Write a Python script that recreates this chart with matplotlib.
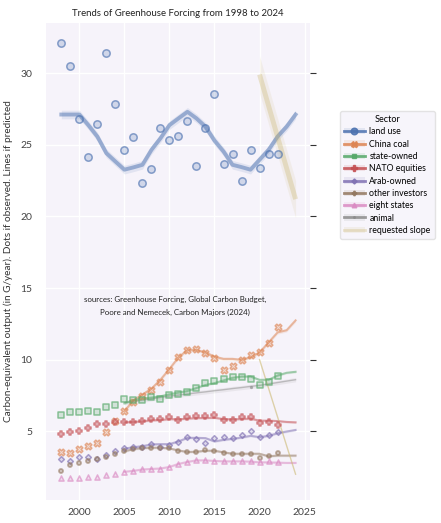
import numpy as np
import matplotlib.pyplot as plt
from matplotlib.colors import to_rgba
from matplotlib.lines import Line2D
from matplotlib.patches import Patch

plt.rcParams['font.family'] = ['Lato', 'DejaVu Sans']

# observed years (dots) and predicted years (lines)
obs_years = list(range(1998, 2023))
pred_years_all = list(range(1998, 2025))
pred_years = list(range(2005, 2025))

land_obs = [32.08, 30.53, 26.8, 24.18, 26.42, 31.39, 27.85, 24.64, 25.54, 22.33,
            23.33, 26.17, 25.36, 25.61, 26.67, 23.51, 26.19, 28.55, 23.63, 24.36,
            22.47, 24.62, 23.39, 24.34, 24.34]
land_pred = [27.11, 27.11, 27.11, 26.37, 25.57, 24.41, 23.83, 23.26, 23.42, 23.6,
             24.64, 25.45, 26.37, 26.84, 27.3, 26.84, 26.26, 25.29, 24.53, 23.6,
             23.44, 23.26, 23.95, 24.64, 25.57, 26.26, 27.11]

china_obs = [3.53, 3.48, 3.76, 4.0, 4.19, 4.95, 5.74, 6.41, 7.03, 7.49, 7.88, 8.43,
             9.29, 10.21, 10.67, 10.74, 10.48, 10.14, 9.29, 9.54, 9.98, 10.32,
             10.55, 11.18, 12.3]
china_pred = [6.4, 7.17, 7.56, 7.97, 8.6, 9.35, 10.16, 10.67, 10.67, 10.5, 10.2,
              10.05, 10.05, 9.98, 10.16, 10.5, 11.2, 11.9, 12.05, 12.74]

state_obs = [6.11, 6.34, 6.31, 6.38, 6.31, 6.66, 6.84, 7.26, 7.17, 7.19, 7.37, 7.26,
             7.53, 7.6, 7.72, 8.02, 8.36, 8.5, 8.64, 8.8, 8.78, 8.66, 8.25, 8.46, 8.85]
state_pred = [6.94, 7.17, 7.28, 7.35, 7.44, 7.58, 7.7, 7.81, 8.02, 8.23, 8.36, 8.55,
              8.73, 8.82, 8.82, 8.59, 8.59, 8.89, 9.08, 9.15]

nato_obs = [4.82, 4.93, 5.02, 5.25, 5.48, 5.51, 5.67, 5.62, 5.65, 5.74, 5.83, 5.83,
            6.01, 5.78, 5.97, 6.04, 6.04, 6.11, 5.76, 5.76, 5.97, 6.01, 5.6, 5.67, 5.44]
nato_pred = [5.62, 5.65, 5.69, 5.76, 5.78, 5.85, 5.83, 5.88, 5.92, 5.92, 5.94, 5.85,
             5.83, 5.85, 5.88, 5.74, 5.74, 5.71, 5.65, 5.62]

arab_obs = [3.09, 2.95, 3.23, 3.18, 3.06, 3.36, 3.59, 3.82, 3.87, 3.89, 4.1, 3.92,
            4.01, 4.24, 4.59, 4.45, 4.19, 4.52, 4.63, 4.56, 4.72, 5.0, 4.63, 4.72, 4.93]
arab_pred = [3.78, 3.89, 3.96, 4.08, 4.1, 4.1, 4.29, 4.54, 4.54, 4.52, 4.29, 4.4,
             4.47, 4.56, 4.68, 4.59, 4.68, 4.86, 4.98, 5.09]

other_obs = [2.24, 2.63, 2.81, 2.93, 3.04, 3.2, 3.41, 3.64, 3.78, 3.82, 3.8, 3.82,
             3.8, 3.59, 3.53, 3.55, 3.71, 3.64, 3.5, 3.43, 3.43, 3.43, 3.11, 3.27, 3.46]
other_pred = [3.59, 3.76, 3.82, 3.85, 3.85, 3.8, 3.66, 3.55, 3.57, 3.64, 3.64, 3.53,
              3.43, 3.43, 3.43, 3.43, 3.25, 3.3, 3.3, 3.3]

eight_obs = [1.71, 1.73, 1.77, 1.84, 1.82, 1.96, 2.03, 2.14, 2.21, 2.33, 2.37, 2.35,
             2.51, 2.74, 2.86, 3.0, 2.97, 2.93, 2.9, 2.9, 2.9, 2.9, 2.86, 2.93, 2.86]
eight_pred = [2.17, 2.24, 2.33, 2.37, 2.4, 2.51, 2.72, 2.86, 2.97, 2.97, 2.93, 2.9,
              2.9, 2.9, 2.88, 2.83, 2.83, 2.81, 2.79, 2.79]

animal_obs_years = [2019]
animal_obs = [8.1]
animal_pred = [7.0, 7.08, 7.17, 7.26, 7.36, 7.45, 7.52, 7.6, 7.68, 7.75, 7.83, 7.9,
               7.98, 8.05, 8.13, 8.2, 8.3, 8.4, 8.5, 8.6]

slope_years = [2020, 2024]
slope_top = [29.9, 21.2]
slope_bottom = [10.0, 2.0]

sectors = ['land use', 'China coal', 'state-owned', 'NATO equities', 'Arab-owned',
           'other investors', 'eight states', 'animal', 'requested slope']
colors = ['#4C72B0', '#DD8452', '#55A868', '#C44E52', '#8172B3', '#937860',
          '#DA8BC3', '#8C8C8C', '#CCB974']
markers = ['o', 'X', 's', 'P', 'D', 'P', '^', '.', None]
msizes = [5.3, 4.8, 3.8, 4.6, 2.9, 3.5, 3.7, 2.5, 0]

fig = plt.figure(figsize=(4.41, 5.23), dpi=100)
ax = fig.add_axes([46 / 441, 23 / 523, 264 / 441, 477 / 523])
ax.set_facecolor('#F6F3FA')
ax.grid(True, color='white', lw=1)
for s in ax.spines.values():
    s.set_visible(False)
ax.set_axisbelow(True)


def draw(name, ox, oy, px, py, lw=1.5, band=0.15):
    i = sectors.index(name)
    c = colors[i]
    px = np.array(px)
    py = np.array(py)
    ax.fill_between(px, py - band, py + band, color=c, alpha=0.12, lw=0)
    ax.plot(px, py, color=c, lw=lw, alpha=0.5)
    if len(ox):
        ax.scatter(ox, oy, marker=markers[i], s=msizes[i] ** 2,
                   facecolor=to_rgba(c, 0.22), edgecolor=to_rgba(c, 0.65),
                   lw=1.1, zorder=3)


draw('land use', obs_years, land_obs, pred_years_all, land_pred, lw=2.8, band=0.3)
draw('China coal', obs_years, china_obs, pred_years, china_pred, band=0.12)
draw('animal', animal_obs_years, animal_obs, pred_years, animal_pred, lw=1.0, band=0.15)
draw('state-owned', obs_years, state_obs, pred_years, state_pred, band=0.08)
draw('NATO equities', obs_years, nato_obs, pred_years, nato_pred, band=0.08)
draw('Arab-owned', obs_years, arab_obs, pred_years, arab_pred, band=0.08)
draw('other investors', obs_years, other_obs, pred_years, other_pred, band=0.08)
draw('eight states', obs_years, eight_obs, pred_years, eight_pred, band=0.06)

# requested slope: thick band on land use, thin line below
sy = np.array(slope_top)
ax.fill_between(slope_years, sy - 1.3, sy + 1.3, color=colors[8], alpha=0.12, lw=0)
ax.plot(slope_years, slope_top, color=colors[8], lw=3.5, alpha=0.35, solid_capstyle='butt')
ax.plot(slope_years, slope_bottom, color=colors[8], lw=1.0, alpha=0.6)

ax.set_xlim(1996.3, 2025.6)
ax.set_ylim(0.2, 33.5)
ax.set_xticks([2000, 2005, 2010, 2015, 2020, 2025])
ax.set_yticks([5, 10, 15, 20, 25, 30])
ax.tick_params(axis='both', labelsize=7.5, labelcolor='#444444', length=0, pad=6)
ax.tick_params(axis='y', right=True, left=False, labelleft=True, labelright=False,
               length=4, color='#333333', direction='out')
ax.set_ylabel('Carbon-equivalent output (in G/year). Dots if observed. Lines if predicted',
              fontsize=7.2, color='#333333', labelpad=5)
ax.set_title('Trends of Greenhouse Forcing from 1998 to 2024', fontsize=6.9,
             color='#222222', pad=5)
ax.text(2010.6, 13.75, 'sources: Greenhouse Forcing, Global Carbon Budget,\n'
        'Poore and Nemecek, Carbon Majors (2024)',
        ha='center', va='center', fontsize=5.7, color='#222222', linespacing=2.0)

handles = []
for i, name in enumerate(sectors):
    band = Patch(facecolor=colors[i], alpha=0.12, lw=0)
    if markers[i]:
        ln = Line2D([], [], color=colors[i], lw=2, alpha=0.85, marker=markers[i],
                    markersize=msizes[i] * 0.9,
                    markerfacecolor=to_rgba(colors[i], 0.2),
                    markeredgecolor=colors[i])
    else:
        ln = Line2D([], [], color=colors[i], lw=2, alpha=0.35)
    handles.append((band, ln))

leg = fig.legend(handles, sectors, title='Sector', loc='upper left',
                 bbox_to_anchor=(340 / 441, 1 - 111 / 523), fontsize=6.3,
                 title_fontsize=6.6, frameon=True, handlelength=2.4,
                 borderpad=0.45, labelspacing=0.38, handletextpad=0.5,
                 borderaxespad=0)
leg.get_frame().set_facecolor('#F6F3FA')
leg.get_frame().set_edgecolor('#DDDDDD')

fig.savefig('out.png', dpi=100)
